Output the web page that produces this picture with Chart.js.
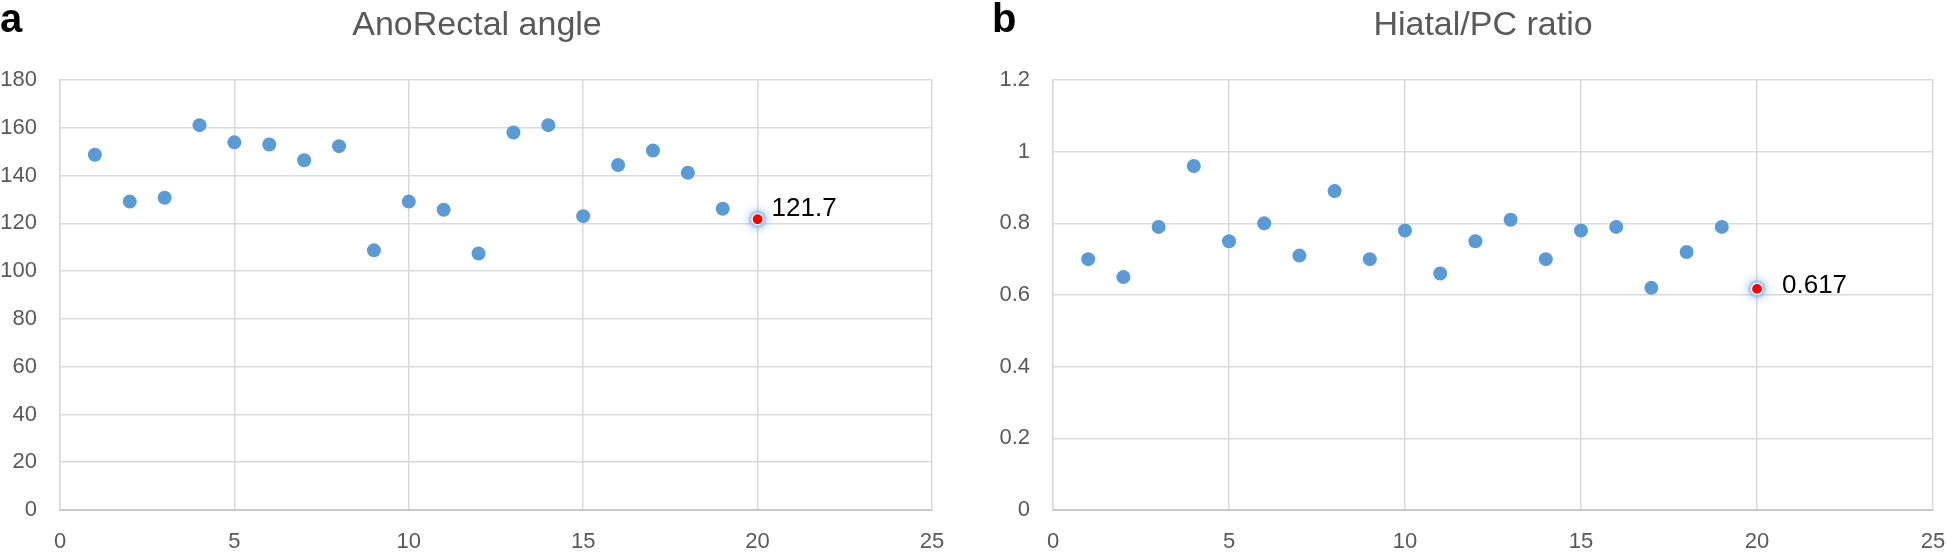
<!DOCTYPE html>
<html>
<head>
<meta charset="utf-8">
<script src="https://cdn.jsdelivr.net/npm/chart.js@4.4.1/dist/chart.umd.min.js"></script>
<style>
  html, body { margin: 0; padding: 0; background: #fff; overflow: hidden; width: 1946px; height: 552px; }
  .box { position: absolute; top: 0; height: 552px; }
</style>
</head>
<body>
<div class="box" style="left:0;width:973px"><canvas id="angle"></canvas></div>
<div class="box" style="left:973px;width:1000px"><canvas id="ratio"></canvas></div>
<script>
// patient number on x, the last one is the highlighted case
const patients = [1, 2, 3, 4, 5, 6, 7, 8, 9, 10, 11, 12, 13, 14, 15, 16, 17, 18, 19, 20];
const angleValues = [148.7, 129.1, 130.7, 161.1, 153.9, 153.0, 146.4, 152.3, 108.7, 129.1,
                     125.7, 107.4, 158.0, 161.1, 123.0, 144.4, 150.5, 141.2, 126.1, 121.7];
const ratioValues = [0.70, 0.65, 0.79, 0.96, 0.75, 0.80, 0.71, 0.89, 0.70, 0.78,
                     0.66, 0.75, 0.81, 0.70, 0.78, 0.79, 0.62, 0.72, 0.79, 0.617];

const xTicks = [0, 5, 10, 15, 20, 25];
const angleTicks = [0, 20, 40, 60, 80, 100, 120, 140, 160, 180];
const angleTickLabels = ['0', '20', '40', '60', '80', '100', '120', '140', '160', '180'];
const ratioTicks = [0, 0.2, 0.4, 0.6, 0.8, 1, 1.2];
const ratioTickLabels = ['0', '0.2', '0.4', '0.6', '0.8', '1', '1.2'];

const GRID = '#d9d9d9';
const TEXT = '#595959';
const FONT = 'Liberation Sans';

// titles, panel letters, glow and value label of the highlighted point
const decor = {
  id: 'decor',
  beforeDatasetDraw(chart, args) {
    if (chart.data.datasets[args.index].label !== 'glow') return;
    const ctx = chart.ctx;
    ctx.save();
    ctx.shadowColor = 'rgba(91,155,213,1)';
    ctx.shadowBlur = 10;
  },
  afterDatasetDraw(chart, args) {
    if (chart.data.datasets[args.index].label !== 'glow') return;
    chart.ctx.restore();
  },
  afterDraw(chart, args, o) {
    const ctx = chart.ctx;
    ctx.save();
    ctx.textBaseline = 'alphabetic';
    ctx.fillStyle = '#000';
    ctx.font = 'bold 40px ' + FONT;
    ctx.textAlign = 'left';
    ctx.fillText(o.letter, o.letterX, 32);
    ctx.fillStyle = TEXT;
    ctx.font = '34px ' + FONT;
    ctx.textAlign = 'center';
    ctx.fillText(o.title, o.titleX, 35);
    const pt = chart.getDatasetMeta(0).data[0];
    ctx.fillStyle = '#000';
    ctx.font = '26px ' + FONT;
    ctx.textAlign = 'left';
    ctx.textBaseline = 'middle';
    ctx.fillText(o.label, pt.x + o.dx, pt.y + o.dy);
    ctx.restore();
  }
};

function makeChart(id, values, yTicks, yLabels, o) {
  const last = patients.length - 1;
  const base = patients.slice(0, last).map((x, i) => ({ x: x, y: values[i] }));
  const hl = [{ x: patients[last], y: values[last] }];
  return new Chart(document.getElementById(id), {
    type: 'scatter',
    data: {
      datasets: [
        {
          label: 'hl',
          data: hl,
          pointRadius: 5.5,
          pointBackgroundColor: '#ff0000',
          pointBorderColor: '#ffffff',
          pointBorderWidth: 1.2,
          order: 0
        },
        {
          label: 'glow',
          data: hl,
          pointRadius: 9,
          pointBackgroundColor: 'rgba(150,195,240,0.6)',
          pointBorderWidth: 0,
          order: 1
        },
        {
          label: 'pts',
          data: base,
          pointRadius: 7,
          pointBackgroundColor: '#5b9bd5',
          pointBorderWidth: 0,
          order: 2
        }
      ]
    },
    options: {
      responsive: true,
      maintainAspectRatio: false,
      animation: false,
      layout: { padding: { left: 0, top: 80, right: o.right, bottom: 0 } },
      plugins: {
        legend: { display: false },
        tooltip: { enabled: false },
        decor: { letter: o.letter, letterX: o.letterX, title: o.title, titleX: o.titleX,
                 label: String(values[last]), dx: o.dx, dy: o.dy }
      },
      scales: {
        x: {
          type: 'linear', min: 0, max: 25,
          afterBuildTicks: s => { s.ticks = xTicks.map(v => ({ value: v })); },
          afterFit: s => { s.height = 42; },
          ticks: { color: TEXT, font: { family: FONT, size: 22 }, padding: 19, autoSkip: false, maxRotation: 0 },
          grid: { color: GRID, lineWidth: 1.5, drawTicks: false },
          border: { color: '#c8c8c8', width: 2 }
        },
        y: {
          min: 0, max: yTicks[yTicks.length - 1],
          afterBuildTicks: s => { s.ticks = yTicks.map(v => ({ value: v })); },
          afterFit: s => { s.width = o.left; },
          ticks: { color: TEXT, font: { family: FONT, size: 22 }, padding: 23,
                   callback: (v, i) => yLabels[i] },
          grid: { color: GRID, lineWidth: 1.5, drawTicks: false },
          border: { color: GRID, width: 1.5 }
        }
      }
    },
    plugins: [decor]
  });
}

makeChart('angle', angleValues, angleTicks, angleTickLabels,
  { left: 60, right: 41, letter: 'a', letterX: 0, title: 'AnoRectal angle', titleX: 477, dx: 14, dy: -10 });
makeChart('ratio', ratioValues, ratioTicks, ratioTickLabels,
  { left: 80, right: 40, letter: 'b', letterX: 19, title: 'Hiatal/PC ratio', titleX: 510, dx: 25, dy: -3 });
</script>
</body>
</html>
